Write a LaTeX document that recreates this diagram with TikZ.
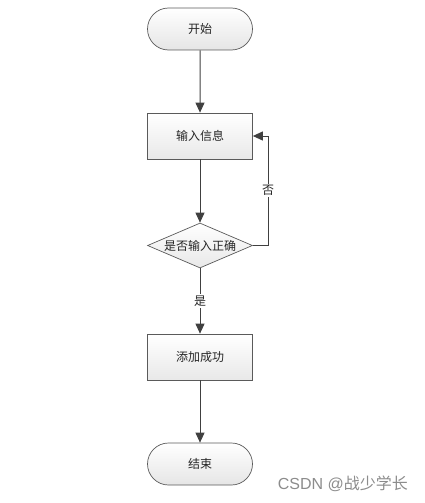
\documentclass[tikz,border=0pt]{standalone}
\usepackage{fontspec}
\newfontfamily\cjk{Noto Sans CJK SC}
\usetikzlibrary{shapes.geometric,shapes.misc,arrows.meta}
\definecolor{lc}{HTML}{404040}
\definecolor{bd}{HTML}{5A5A5A}
\tikzset{
  every node/.style={font=\cjk\fontsize{12}{14}\selectfont, text=black!85},
  term/.style={draw=bd, line width=0.7pt, rounded rectangle, minimum width=105pt, minimum height=42pt, top color=white, bottom color=black!10, inner sep=0pt},
  proc/.style={draw=bd, line width=0.7pt, rectangle, minimum width=105pt, minimum height=46pt, top color=white, bottom color=black!9, inner sep=0pt},
  dec/.style={draw=bd, line width=0.7pt, diamond, aspect=2.33, minimum width=105pt, minimum height=45pt, top color=white, bottom color=black!9, inner sep=0pt},
  conn/.style={draw=lc, line width=1pt, -{Triangle[length=10pt,width=9pt]}},
  lbl/.style={fill=white, inner sep=1.5pt}
}
\begin{document}
\begin{tikzpicture}[x=1pt,y=-1pt]
\useasboundingbox (0,0) rectangle (424,503);
\node[term] (start) at (200,29) {开始};
\node[proc] (input) at (200,136) {输入信息};
\node[dec] (check) at (200,245.5) {是否输入正确};
\node[proc] (ok) at (200,357) {添加成功};
\node[term] (end) at (200,464) {结束};
\coordinate (c1) at (268,245.5);
\coordinate (c2) at (268,136);
\draw[conn] (start) -- (input);
\draw[conn] (input) -- (check);
\draw[conn] (check) -- node[lbl] {是} (ok);
\draw[conn] (ok) -- (end);
\draw[conn] (check.east) -- (c1) -- node[lbl, pos=0.5] {否} (c2) -- (input.east);
\node[font=\fontspec{Liberation Sans}\fontsize{16}{18}\selectfont, text=black!45, anchor=east, inner sep=0pt] (wm) at (408,484) {CSDN @{\cjk 战少学长}};
\end{tikzpicture}
\end{document}
